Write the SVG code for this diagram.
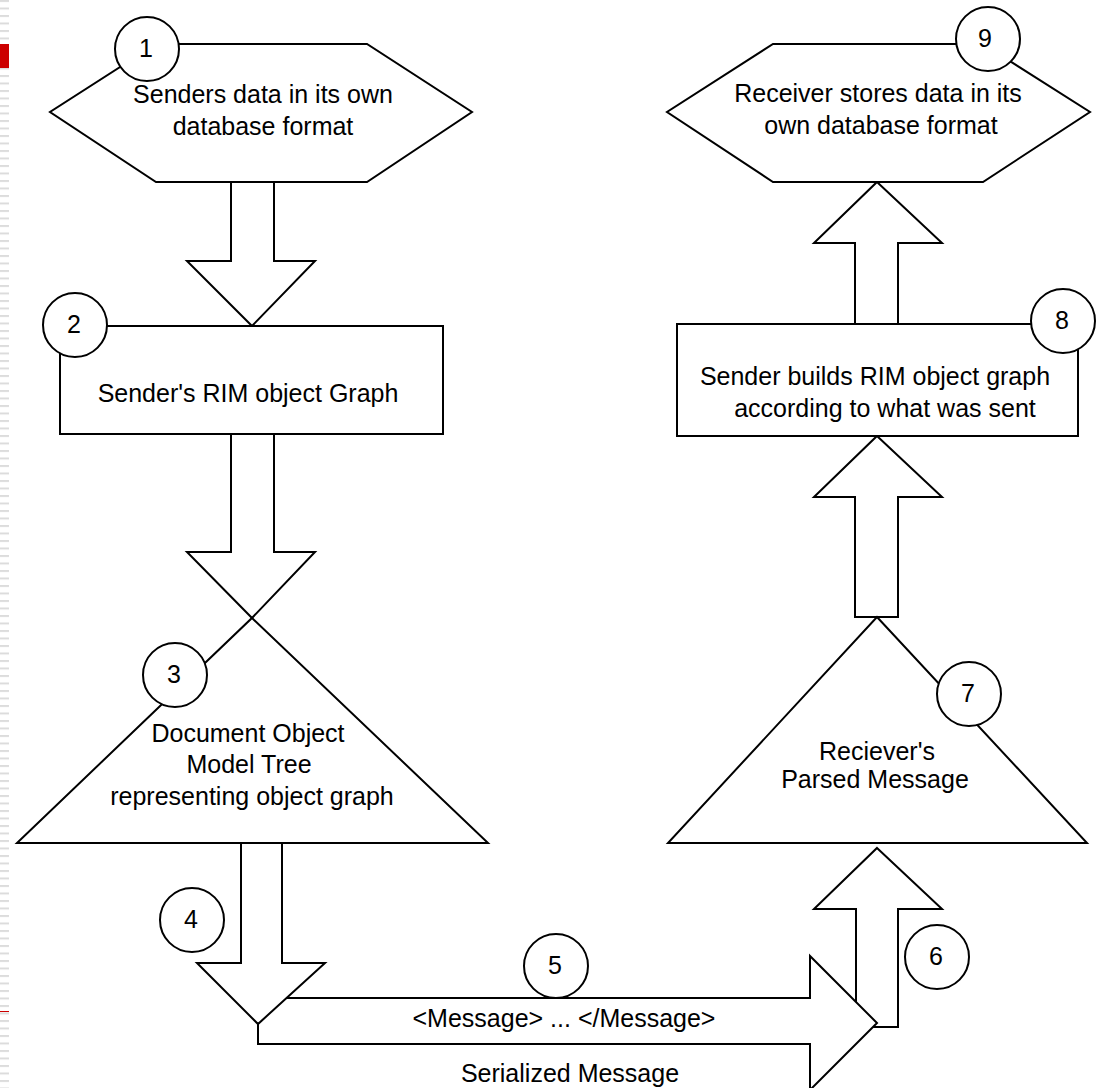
<svg xmlns="http://www.w3.org/2000/svg" width="1097" height="1088" viewBox="0 0 1097 1088">
<defs>
<pattern id="stripes" width="9" height="7.5" patternUnits="userSpaceOnUse">
<rect x="0" y="0" width="9" height="2" fill="#dcdcdc"/>
</pattern>
</defs>
<style>
.s{fill:#fff;stroke:#000;stroke-width:2;stroke-linejoin:miter}
.c{fill:#fff;stroke:#000;stroke-width:2}
.t{font-family:"Liberation Sans",Arial,sans-serif;font-size:25px;fill:#000;text-anchor:middle}
</style>
<rect width="1097" height="1088" fill="#fff"/>
<g id="margin">
<rect x="0" y="0" width="9" height="1088" fill="url(#stripes)"/>
<rect x="0" y="44" width="9" height="24" fill="#cc0000"/>
<rect x="0" y="1011" width="9" height="1" fill="#cc0000"/>
</g>
<g id="connectors">
<polygon class="s" points="231,182 274,182 274,261 315,261 252,326 187,261 231,261"/>
<polygon class="s" points="231,434 274,434 274,552 315,552 252,618 187,552 231,552"/>
<polygon class="s" points="877,848 942,909 898,909 898,1027 856,1027 856,909 814,909"/>
<polygon class="s" points="258,998 810,998 810,956 877,1023 810,1090 810,1044 258,1044"/>
<polygon class="s" points="241,843 282,843 282,963 325,963 258,1024 197,963 241,963"/>
<polygon class="s" points="877,436 942,497 898,497 898,617 855,617 855,497 814,497"/>
<polygon class="s" points="877,182 942,243 898,243 898,324 855,324 855,243 814,243"/>
<text class="t" x="564" y="1027">&lt;Message&gt; ... &lt;/Message&gt;</text>
<text class="t" x="570" y="1082">Serialized Message</text>
</g>
<g id="node1">
<polygon class="s" points="156,44 367,44 472,112 367,182 156,182 50,112"/>
<circle class="c" cx="147" cy="49" r="32"/>
<text class="t" x="146" y="57">1</text>
<text class="t" x="263" y="103">Senders data in its own</text>
<text class="t" x="263" y="135">database format</text>
</g>
<g id="node2">
<rect class="s" x="60" y="326" width="383" height="108"/>
<circle class="c" cx="75" cy="325" r="32"/>
<text class="t" x="74" y="333">2</text>
<text class="t" x="248" y="402">Sender's RIM object Graph</text>
</g>
<g id="node3">
<polygon class="s" points="252,618 488,843 17,843"/>
<circle class="c" cx="175" cy="675" r="32"/>
<text class="t" x="174" y="683">3</text>
<text class="t" x="248" y="742">Document Object</text>
<text class="t" x="249" y="773">Model Tree</text>
<text class="t" x="252" y="805">representing object graph</text>
</g>
<g id="step4">
<circle class="c" cx="192" cy="920" r="32"/>
<text class="t" x="191" y="928">4</text>
</g>
<g id="step5">
<circle class="c" cx="556" cy="966" r="32"/>
<text class="t" x="555" y="974">5</text>
</g>
<g id="step6">
<circle class="c" cx="937" cy="957" r="32"/>
<text class="t" x="936" y="965">6</text>
</g>
<g id="node7">
<polygon class="s" points="877,617 1087,843 668,843"/>
<circle class="c" cx="969" cy="694" r="32"/>
<text class="t" x="968" y="702">7</text>
<text class="t" x="877" y="760">Reciever's</text>
<text class="t" x="875" y="788">Parsed Message</text>
</g>
<g id="node8">
<rect class="s" x="677" y="324" width="401" height="112"/>
<circle class="c" cx="1063" cy="321" r="32"/>
<text class="t" x="1062" y="329">8</text>
<text class="t" x="875" y="385">Sender builds RIM object graph</text>
<text class="t" x="885" y="417">according to what was sent</text>
</g>
<g id="node9">
<polygon class="s" points="773,44 983,44 1090,112 983,182 773,182 667,112"/>
<circle class="c" cx="988" cy="39" r="32"/>
<text class="t" x="985" y="47">9</text>
<text class="t" x="878" y="102">Receiver stores data in its</text>
<text class="t" x="881" y="134">own database format</text>
</g>
</svg>
